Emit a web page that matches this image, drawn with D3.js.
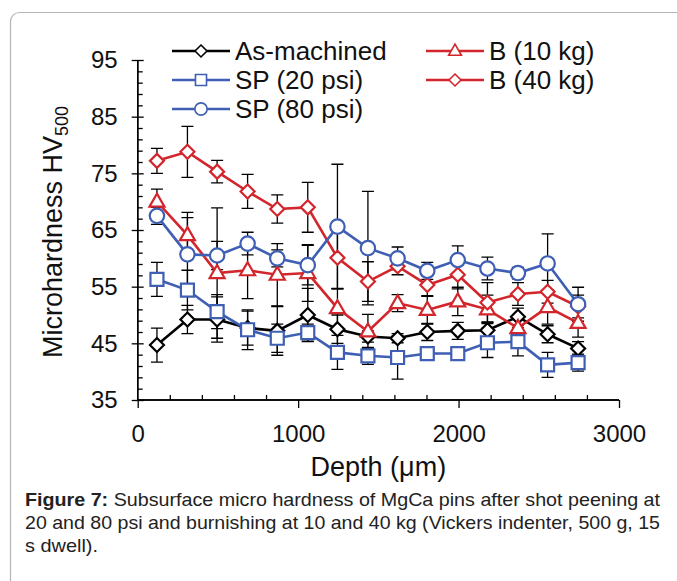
<!DOCTYPE html>
<html><head><meta charset="utf-8">
<script src="https://cdn.jsdelivr.net/npm/d3@7"></script>
<style>
html,body{margin:0;padding:0;background:#fff;}
svg{display:block;}
</style></head>
<body>
<svg id="chart" width="677" height="581"></svg>
<script>
// ---------- data ----------
const depth = [120, 310, 495, 685, 870, 1060, 1245, 1435, 1620, 1805, 1995, 2180, 2370, 2555, 2745];

const asMachined    = [44.7, 49.2, 49.2, 47.7, 47.2, 50.0, 47.5, 46.2, 45.9, 47.0, 47.2, 47.3, 49.7, 46.6, 44.1];
const asMachinedErr = [3.0, 2.5, 4.0, 3.0, 4.3, 4.7, 2.5, 1.0, 0.8, 1.5, 1.5, 1.5, 1.5, 1.5, 1.2];

const sp20    = [56.3, 54.4, 50.6, 47.4, 45.9, 46.9, 43.4, 42.8, 42.5, 43.2, 43.2, 45.1, 45.3, 41.2, 41.6];
const sp20Err = [3.0, 3.5, 3.0, 3.5, 2.5, 1.5, 3.0, 1.5, 3.8, 1.0, 1.0, 2.6, 2.5, 2.2, 1.5];

const sp80    = [67.5, 60.7, 60.5, 62.6, 60.0, 58.8, 65.6, 61.8, 60.0, 57.8, 59.7, 58.2, 57.4, 59.1, 51.9];
const sp80Err = [1.5, 6.5, 2.5, 2.0, 1.5, 3.5, 11.0, 10.0, 2.0, 1.5, 2.5, 2.0, 1.0, 5.2, 3.0];

const b10    = [70.0, 64.1, 57.4, 57.9, 57.1, 57.4, 51.2, 47.1, 52.1, 50.9, 52.4, 51.0, 47.7, 51.4, 48.6];
const b10Err = [2.2, 4.0, 11.5, 5.0, 5.5, 5.0, 3.5, 3.0, 1.5, 2.5, 2.5, 2.5, 2.0, 3.0, 2.5];

const b40    = [77.2, 78.8, 75.3, 71.8, 68.7, 69.0, 60.1, 55.9, 58.6, 55.3, 57.1, 52.2, 53.7, 54.1, 51.5];
const b40Err = [2.2, 4.5, 2.0, 3.0, 2.5, 4.4, 5.5, 3.5, 1.5, 2.0, 2.5, 3.5, 2.0, 2.0, 2.0];

const seriesNames = ["As-machined", "SP (20 psi)", "SP (80 psi)", "B (10 kg)", "B (40 kg)"];
const xTicks = [0, 1000, 2000, 3000];
const yTicks = [35, 45, 55, 65, 75, 85, 95];
const captionBold = "Figure 7:";
const captionLines = [
  " Subsurface micro hardness of MgCa pins after shot peening at",
  "20 and 80 psi and burnishing at 10 and 40 kg (Vickers indenter, 500 g, 15",
  "s dwell)."
];

// ---------- styling ----------
const BLACK = "#000000", BLUE = "#3f5fb4", RED = "#d3262c";
const series = [
  {name: seriesNames[0], v: asMachined, e: asMachinedErr, color: BLACK, shape: "diamond"},
  {name: seriesNames[3], v: b10, e: b10Err, color: RED, shape: "triangle"},
  {name: seriesNames[4], v: b40, e: b40Err, color: RED, shape: "diamond"},
  {name: seriesNames[1], v: sp20, e: sp20Err, color: BLUE, shape: "square"},
  {name: seriesNames[2], v: sp80, e: sp80Err, color: BLUE, shape: "circle"}
];

const svg = d3.select("#chart");
const FONT = "'Liberation Sans', Arial, sans-serif";

// frame
svg.append("rect").attr("x", 10.5).attr("y", 12.5).attr("width", 720).attr("height", 620)
  .attr("rx", 9).attr("fill", "none").attr("stroke", "#b5b5b5").attr("stroke-width", 1.2);

const x = d3.scaleLinear().domain([0, 3000]).range([137.7, 619]);
const y = d3.scaleLinear().domain([35, 95]).range([400, 60]);

// axes
const gx = svg.append("g").attr("transform", `translate(0,${y(35)})`);
gx.call(d3.axisBottom(x).tickValues(xTicks).tickSize(8).tickPadding(17).tickFormat(d3.format("d")));
gx.append("g").call(d3.axisTop(x).tickValues(d3.range(0, 3001, 200).filter(d => d % 1000 !== 0)).tickSize(5).tickFormat(""));
const gy = svg.append("g").attr("transform", `translate(${x(0)},0)`);
gy.call(d3.axisLeft(y).tickValues(yTicks).tickSize(6).tickPadding(14));
gy.append("g").call(d3.axisRight(y).tickValues(d3.range(35, 96, 2).filter(d => (d - 35) % 10 !== 0)).tickSize(5).tickFormat(""));
gy.append("g").call(d3.axisRight(y).tickValues(yTicks).tickSize(6).tickFormat(""));
svg.selectAll(".domain").attr("stroke", "#000").attr("stroke-width", 1.3);
svg.selectAll(".tick line").attr("stroke", "#000").attr("stroke-width", 1.3);
svg.selectAll(".tick text").attr("font-family", FONT).attr("font-size", 24).attr("fill", "#111");
gx.selectAll(".domain").attr("d", `M${x(0)},0H${x(3000)}`);
gy.selectAll(".domain").attr("d", `M0,${y(35)}V${y(95)}`);

// axis titles
svg.append("text").attr("x", x(1500)).attr("y", 476).attr("text-anchor", "middle")
  .attr("font-family", FONT).attr("font-size", 27).attr("fill", "#111").text("Depth (μm)");
const yt = svg.append("text").attr("transform", "translate(62,232) rotate(-90)").attr("text-anchor", "middle")
  .attr("font-family", FONT).attr("font-size", 27).attr("fill", "#111");
yt.append("tspan").text("Microhardness HV");
yt.append("tspan").attr("font-size", 18).attr("dy", 6).text("500");

// marker shapes
function shapePath(shape, s) {
  if (shape === "diamond") return `M0,${-7*s}L${7*s},0L0,${7*s}L${-7*s},0Z`;
  if (shape === "square") return `M${-6.5*s},${-6.5*s}h${13*s}v${13*s}h${-13*s}Z`;
  if (shape === "triangle") return `M0,${-8*s}L${7.5*s},${5*s}L${-7.5*s},${5*s}Z`;
  return d3.arc()({innerRadius: 0, outerRadius: 7.2*s, startAngle: 0, endAngle: 2*Math.PI});
}

// error bars
const eb = svg.append("g").attr("stroke", "#000").attr("stroke-width", 1.3);
series.forEach(s => {
  depth.forEach((d, i) => {
    const cx = x(d), y1 = y(s.v[i] - s.e[i]), y2 = y(s.v[i] + s.e[i]);
    eb.append("path").attr("d", `M${cx},${y1}V${y2}M${cx-6},${y1}H${cx+6}M${cx-6},${y2}H${cx+6}`);
  });
});

// lines and markers
const line = d3.line().x((d, i) => x(depth[i])).y(d => y(d));
series.forEach(s => {
  svg.append("path").attr("d", line(s.v)).attr("fill", "none").attr("stroke", s.color).attr("stroke-width", 2.6);
  svg.append("g").selectAll("path").data(s.v).join("path")
    .attr("transform", (d, i) => `translate(${x(depth[i])},${y(d)})`)
    .attr("d", shapePath(s.shape, 1)).attr("fill", "#fff").attr("stroke", s.color).attr("stroke-width", 2.2);
});

// legend
const legendItems = [
  {name: seriesNames[0], color: BLACK, shape: "diamond", lx: 172, ly: 51},
  {name: seriesNames[1], color: BLUE, shape: "square", lx: 172, ly: 80},
  {name: seriesNames[2], color: BLUE, shape: "circle", lx: 172, ly: 109},
  {name: seriesNames[3], color: RED, shape: "triangle", lx: 426, ly: 51},
  {name: seriesNames[4], color: RED, shape: "diamond", lx: 426, ly: 80}
];
const lg = svg.append("g");
legendItems.forEach(it => {
  lg.append("line").attr("x1", it.lx).attr("x2", it.lx + 58).attr("y1", it.ly).attr("y2", it.ly)
    .attr("stroke", it.color).attr("stroke-width", 2.4);
  lg.append("path").attr("transform", `translate(${it.lx + 29},${it.ly})`).attr("d", shapePath(it.shape, 0.85))
    .attr("fill", "#fff").attr("stroke", it.color).attr("stroke-width", 1.6);
  lg.append("text").attr("x", it.lx + 63).attr("y", it.ly).attr("dy", "0.35em")
    .attr("font-family", FONT).attr("font-size", 26).attr("fill", "#111").text(it.name);
});

// caption
const CF = "'Liberation Sans Narrow', 'Arial Narrow', 'Liberation Sans', Arial, sans-serif";
const cap = svg.append("g").attr("font-family", CF).attr("font-size", 18.5).attr("fill", "#222");
const t1 = cap.append("text").attr("x", 25).attr("y", 506).attr("textLength", 635).attr("lengthAdjust", "spacingAndGlyphs");
t1.append("tspan").attr("font-weight", "bold").text(captionBold);
t1.append("tspan").text(captionLines[0]);
cap.append("text").attr("x", 25).attr("y", 529).attr("textLength", 635).attr("lengthAdjust", "spacingAndGlyphs").text(captionLines[1]);
cap.append("text").attr("x", 25).attr("y", 552).attr("textLength", 73).attr("lengthAdjust", "spacingAndGlyphs").text(captionLines[2]);
</script>
</body></html>
